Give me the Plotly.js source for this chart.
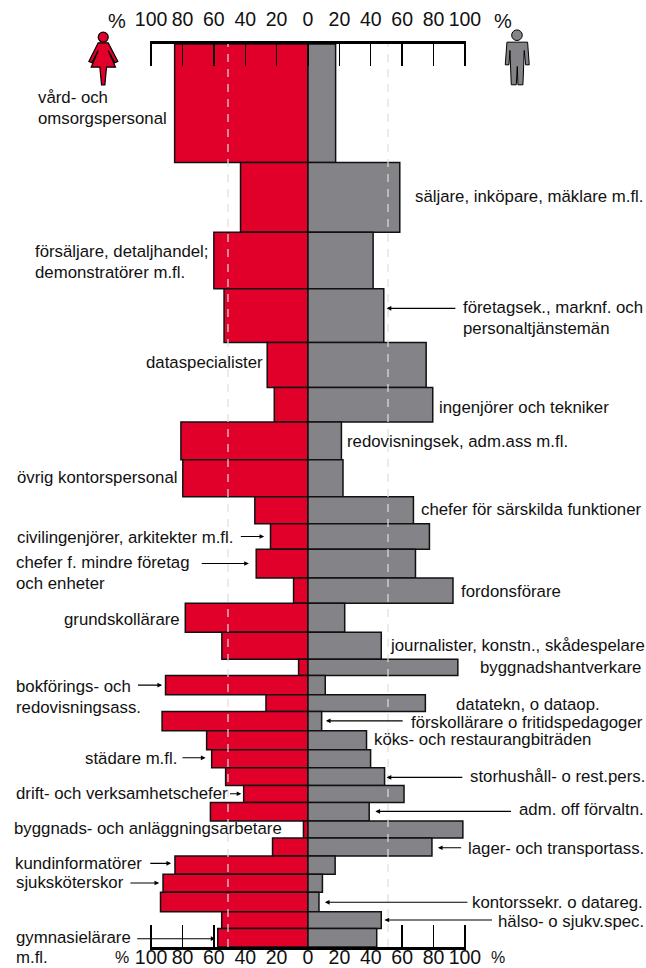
<!DOCTYPE html>
<html><head><meta charset="utf-8">
<script src="https://cdn.plot.ly/plotly-3.0.1.min.js"></script>
<style>html,body{margin:0;padding:0;background:#fff}#c{width:646px;height:968px}</style></head>
<body><div id="c"></div>
<script>
// Data: female and male share (%) and relative size of each occupation group
const occupations = ["vård- och omsorgspersonal","säljare, inköpare, mäklare m.fl.","försäljare, detaljhandel; demonstratörer m.fl.","företagsek., marknf. och personaltjänstemän","dataspecialister","ingenjörer och tekniker","redovisningsek, adm.ass m.fl.","övrig kontorspersonal","chefer för särskilda funktioner","civilingenjörer, arkitekter m.fl.","chefer f. mindre företag och enheter","fordonsförare","grundskollärare","journalister, konstn., skådespelare","byggnadshantverkare","bokförings- och redovisningsass.","datatekn, o dataop.","förskollärare o fritidspedagoger","köks- och restaurangbiträden","städare m.fl.","storhushåll- o rest.pers.","drift- och verksamhetschefer","adm. off förvaltn.","byggnads- och anläggningsarbetare","lager- och transportass.","kundinformatörer","sjuksköterskor","kontorssekr. o datareg.","hälso- o sjukv.spec.","gymnasielärare m.fl."];
const womenPct = [85,43,60,53.5,26,21.5,81,79.8,33.9,23.9,33,9.2,78.2,54.9,6,90.8,26.8,93,64.6,61.4,52.5,41,62.2,2.9,22.6,84.8,92.4,94,55,57.5];
const menPct = [17.6,58.5,41.5,48.3,75.3,79.5,21.3,22.3,67.2,77.4,68.5,92.4,23.4,46.7,95.5,11,74.8,8.7,37.3,39.9,48.8,61.2,39,98.7,79,17.3,9.2,7,46.7,43.8];
const groupSize = [118.5,70,56.5,53.7,45,34.6,37.7,37,27,25.7,28.6,25.4,29,27,16.3,19.3,16.7,19.3,19,18,17.7,17,18.7,17,18,18.3,18,19.3,17,18.4];
const tickValues = [-100,-80,-60,-40,-20,0,20,40,60,80,100];
const tickLabels = ["100","80","60","40","20","0","20","40","60","80","100"];

const RED="#E00029", GREY="#848388", INK="#111";
const L=149.5,W=316.2,T=43.5,H=903.5;
const fx=x=>(x-L)/W, fy=y=>1-(y-T)/H;

let acc=0; const centers=groupSize.map(s=>{const c=acc+s/2;acc+=s;return c;});
const total=acc;

const common={type:"bar",orientation:"h",y:centers,width:groupSize,hoverinfo:"skip",showlegend:false};
const traces=[
 Object.assign({},common,{x:womenPct.map(v=>-v),marker:{color:RED,line:{color:INK,width:1.5}},customdata:occupations}),
 Object.assign({},common,{x:menPct,marker:{color:GREY,line:{color:INK,width:1.5}},customdata:occupations}),
 {type:"scatter",mode:"none",x:[0],y:[0],xaxis:"x2",yaxis:"y",hoverinfo:"skip",showlegend:false}
];

const labels=[
["vård- och",37.1,97.3],["omsorgspersonal",37.1,118],
["säljare, inköpare, mäklare m.fl.",415.1,196],
["försäljare, detaljhandel;",34.8,250.7],["demonstratörer m.fl.",34.8,271.7],
["företagsek., marknf. och",462.9,306.7],["personaltjänstemän",462.9,328],
["dataspecialister",145,362.3],["ingenjörer och tekniker",439,407.3],
["redovisningsek, adm.ass m.fl.",346.4,441],["övrig kontorspersonal",16.9,477],
["chefer för särskilda funktioner",421,509],["civilingenjörer, arkitekter m.fl.",16.9,537],
["chefer f. mindre företag",15.9,562.3],["och enheter",15.9,583.3],["fordonsförare",460.9,591],
["grundskollärare",63,619],["journalister, konstn., skådespelare",389.2,645],
["byggnadshantverkare",479.8,667.3],["bokförings- och",15.9,686],["redovisningsass.",15.9,707],
["datatekn, o dataop.",455.9,704.3],["förskollärare o fritidspedagoger",410.2,722],
["köks- och restaurangbiträden",373.7,739.3],["städare m.fl.",84.6,758.3],
["storhushåll- o rest.pers.",469.9,776.7],["drift- och verksamhetschefer",15.2,793.3],
["adm. off förvaltn.",519.2,809.3],["byggnads- och anläggningsarbetare",13.9,828.3],
["lager- och transportass.",467.3,848],["kundinformatörer",14.9,863.3],["sjuksköterskor",15.2,882.3],
["kontorssekr. o datareg.",471.9,902.3],["hälso- o sjukv.spec.",497.8,921],
["gymnasielärare",15.2,937],["m.fl.",15.2,957.5]
];
const pointers=[
[456.5,386.3,308],[238.9,263.8,536.3],[199.8,248.5,563.3],[136,161.6,685],[403.8,325.5,720.7],
[180.5,205.1,757.7],[463.5,386.3,777.3],[228,240.9,793.7],[512.2,375,811.3],[462.3,437.6,847.7],
[148.3,170.6,863.3],[128.4,158.7,883],[468.5,324.5,902.3],[493.2,384.1,920],[135.2,215,938.7]
];
const font={family:"Liberation Sans, Arial, sans-serif",color:"#111"};
const annotations=labels.map(([t,x,y])=>({xref:"paper",yref:"paper",x:fx(x),y:fy(y),text:t,showarrow:false,xanchor:"left",yanchor:"middle",font:Object.assign({},font,{size:16.8}),borderpad:0,borderwidth:0}))
.concat(pointers.map(([x0,x1,y])=>({xref:"paper",yref:"paper",x:fx(x1),y:fy(y),text:"",showarrow:true,ax:x0-x1,ay:0,axref:"pixel",ayref:"pixel",arrowhead:2,arrowsize:0.85,arrowwidth:1.1,arrowcolor:"#000"})))
.concat([[116,20,20],[503,20,20],[121,958,16],[498,958,16]].map(([x,y,s])=>({xref:"paper",yref:"paper",x:fx(x),y:fy(y),text:"%",showarrow:false,xanchor:"center",yanchor:"middle",font:Object.assign({},font,{size:s})})));

const poly=(pts,ox,oy)=>"M"+pts.map(([a,b])=>fx(ox+a/3)+","+fy(oy+b/3)).join("L")+"Z";
const circle=(cx,cy,r)=>({type:"circle",xref:"paper",yref:"paper",x0:fx(cx-r),x1:fx(cx+r),y0:fy(cy-r),y1:fy(cy+r)});
const woman=[[113,127],[143,127],[172,183],[163,187],[143,150],[165,200],[138,200],[133,253],[123,253],[118,200],[92,200],[113,150],[94,187],[85,183]];
const man=[[200,125],[262,125],[267,193],[256,193],[252,150],[248,253],[233,253],[231,198],[228,253],[213,253],[209,150],[206,193],[195,193]];
const shapes=[
 ...[-51,51].map(v=>({type:"line",xref:"x",yref:"paper",x0:v,x1:v,y0:0,y1:1,layer:"above",line:{color:"#dedede",width:1.2,dash:"8px,7px"}})),
 {type:"path",xref:"paper",yref:"paper",path:poly(woman,60,0),fillcolor:RED,line:{color:"#000",width:1.2}},
 Object.assign(circle(102.7,36.7,5),{fillcolor:RED,line:{color:"#000",width:1.2}}),
 {type:"path",xref:"paper",yref:"paper",path:poly(man,440,0),fillcolor:GREY,line:{color:"#000",width:1}},
 Object.assign(circle(516.7,34.7,5.3),{fillcolor:GREY,line:{color:"#000",width:1}})
];
const ax={range:[-100.7,100.7],fixedrange:true,tickmode:"array",tickvals:tickValues,ticktext:tickLabels,ticks:"inside",ticklen:22,tickwidth:1.4,tickcolor:"#000",
 showline:true,linewidth:3,linecolor:"#000",showgrid:false,zeroline:false,tickfont:Object.assign({},font,{size:19.5})};
const layout={width:646,height:968,paper_bgcolor:"#fff",plot_bgcolor:"rgba(0,0,0,0)",barmode:"overlay",showlegend:false,
 margin:{l:L,r:646-L-W,t:T,b:968-T-H,pad:0},
 xaxis:Object.assign({},ax,{side:"bottom",layer:"below traces",anchor:"y",ticklabelstandoff:-9}),
 xaxis2:Object.assign({},ax,{side:"top",overlaying:"x",layer:"above traces",anchor:"y",ticklabelstandoff:7}),
 yaxis:{range:[total,0],visible:false,fixedrange:true},
 annotations,shapes};
Plotly.newPlot("c",traces,layout,{displayModeBar:false,staticPlot:true});
</script></body></html>
